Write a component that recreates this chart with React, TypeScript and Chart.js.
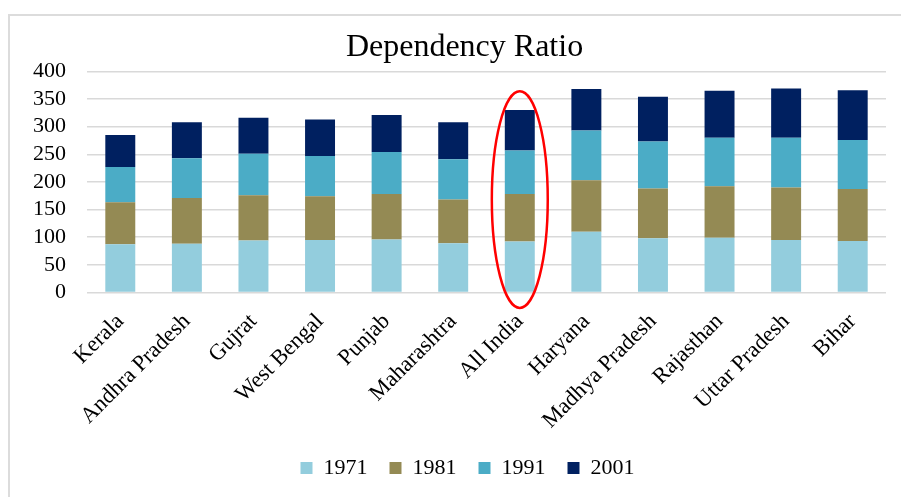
import React, { useEffect, useRef } from "react";
import { Chart, registerables } from "chart.js";

Chart.register(...registerables);

const categories = [
  "Kerala",
  "Andhra Pradesh",
  "Gujrat",
  "West Bengal",
  "Punjab",
  "Maharashtra",
  "All India",
  "Haryana",
  "Madhya Pradesh",
  "Rajasthan",
  "Uttar Pradesh",
  "Bihar",
];

const seriesNames = ["1971", "1981", "1991", "2001"];
const values1971 = [87, 88, 94, 95, 96, 89, 92, 110, 98, 99, 95, 93];
const values1981 = [76, 83, 82, 79, 82, 79, 86, 93, 90, 93, 95, 94];
const values1991 = [64, 72, 75, 73, 76, 73, 79, 90, 85, 88, 90, 89];
const values2001 = [58, 65, 65, 66, 67, 67, 73, 75, 81, 85, 89, 90];
const seriesColors = ["#93CDDD", "#948A54", "#4BACC6", "#002060"];

const yTicks = { min: 0, max: 400, step: 50 };
const highlightIndex = 6;
const highlightRange = [364, -28];

const FONT = "'Liberation Serif', 'Times New Roman', serif";

export default function App() {
  const ref = useRef<HTMLCanvasElement | null>(null);

  useEffect(() => {
    if (!ref.current) return;
    const ellipsePlugin = {
      id: "ellipse",
      afterLayout(chart: any) {
        if (chart.legend) {
          chart.legend.left += 9;
          chart.legend.right += 9;
        }
        if (chart.titleBlock) {
          chart.titleBlock.left += 6;
          chart.titleBlock.right += 6;
        }
      },
      afterDatasetsDraw(chart: any) {
        const x = chart.scales.x;
        const y = chart.scales.y;
        const cx = x.getPixelForValue(highlightIndex);
        const step = x.getPixelForValue(highlightIndex + 1) - cx;
        const top = y.getPixelForValue(highlightRange[0]);
        const bottom = y.getPixelForValue(highlightRange[1]);
        const ctx = chart.ctx;
        ctx.save();
        ctx.beginPath();
        ctx.ellipse(cx, (top + bottom) / 2, step * 0.42, (bottom - top) / 2, 0, 0, Math.PI * 2);
        ctx.strokeStyle = "#FF0000";
        ctx.lineWidth = 2.5;
        ctx.stroke();
        ctx.restore();
      },
    };
    const data = [values1971, values1981, values1991, values2001];
    const chart = new Chart(ref.current, {
      type: "bar",
      data: {
        labels: categories,
        datasets: seriesNames.map((name, i) => ({
          label: name,
          data: data[i],
          backgroundColor: seriesColors[i],
          borderWidth: 0,
          barPercentage: 0.45,
          categoryPercentage: 1,
        })),
      },
      options: {
        responsive: false,
        animation: false,
        layout: { padding: { top: 18, left: 31, right: 15, bottom: 8 } },
        plugins: {
          title: {
            display: true,
            text: "Dependency Ratio",
            color: "#000",
            font: { family: FONT, size: 32, weight: "normal" },
            padding: { top: 10, bottom: 5 },
          },
          legend: {
            position: "bottom",
            labels: {
              color: "#000",
              font: { family: FONT, size: 22 },
              boxWidth: 12,
              boxHeight: 12,
              padding: 22,
            },
          },
          tooltip: { enabled: false },
        },
        scales: {
          x: {
            stacked: true,
            grid: { display: false },
            border: { display: false },
            ticks: {
              color: "#000",
              font: { family: FONT, size: 22.5 },
              maxRotation: 45,
              minRotation: 45,
              autoSkip: false,
              padding: 8,
            },
            afterFit(scale: any) {
              scale.paddingLeft = 0;
              scale.height -= 7;
            },
          },
          y: {
            stacked: true,
            min: yTicks.min,
            max: yTicks.max,
            grid: { color: "#d9d9d9", lineWidth: 1.5, drawTicks: false },
            border: { display: false },
            ticks: {
              stepSize: yTicks.step,
              autoSkip: false,
              color: "#000",
              font: { family: FONT, size: 22 },
              padding: 21,
            },
            afterFit(scale: any) {
              scale.width = 56;
            },
          },
        },
      },
      plugins: [ellipsePlugin],
    });
    return () => chart.destroy();
  }, []);

  return (
    <div
      style={{
        position: "fixed",
        left: 0,
        top: 0,
        width: 901,
        height: 497,
        overflow: "hidden",
        background: "#fff",
      }}
    >
      <div
        style={{
          position: "absolute",
          left: 8,
          top: 14,
          width: 1000,
          height: 1000,
          border: "2px solid #dcdcdc",
          boxSizing: "border-box",
        }}
      />
      <canvas
        ref={ref}
        width={901}
        height={497}
        style={{ position: "absolute", left: 0, top: 0 }}
      />
    </div>
  );
}
